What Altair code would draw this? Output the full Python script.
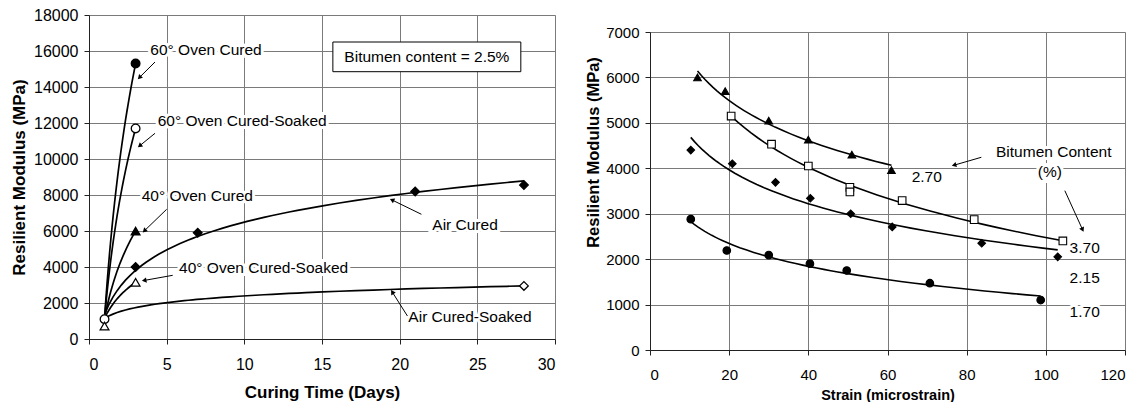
import altair as alt
import pandas as pd

FONT = "Liberation Sans"

# ---------------- Left panel: resilient modulus vs curing time ----------------
left_x_ticks = [0, 5, 10, 15, 20, 25, 30]
left_y_ticks = [0, 2000, 4000, 6000, 8000, 10000, 12000, 14000, 16000, 18000]

oven_days = [1, 3]
oven60_cured = [1150, 15300]
oven60_soaked = [1150, 11700]
oven40_cured = [1150, 6000]
oven40_soaked = [1150, 3150]
air_days = [1, 3, 7, 21, 28]
air_cured = [1150, 4000, 5900, 8200, 8550]
air_soaked_days = [1, 28]
air_soaked = [1150, 2950]
day1_60_soaked_marker = 1100
day1_40_soaked_marker = 720

left_names = ["60° Oven Cured", "60° Oven Cured-Soaked", "40° Oven Cured",
              "40° Oven Cured-Soaked", "Air Cured", "Air Cured-Soaked"]

left_label_x = [3.95, 4.42, 3.39, 5.8, 22.1, 20.56]
left_label_y = [16050, 12100, 7950, 3950, 6350, 1200]

left_arrow_x = [4.25, 4.25, 5.0, 5.39, 21.4, 20.5]
left_arrow_y = [15389, 11428, 7206, 3539, 6928, 1278]
left_arrow_x2 = [3.28, 3.30, 3.6, 3.6, 19.55, 19.55]
left_arrow_y2 = [14556, 10761, 6039, 3261, 7706, 2572]
left_arrow_angle = [225, 231, 226, 260, 296, 328]

box_text = "Bitumen content = 2.5%"
box_x, box_x2, box_y, box_y2 = 15.7, 27.8, 14850, 16500
box_text_x, box_text_y = 21.75, 15680

# ---------------- Right panel: resilient modulus vs strain ----------------
right_x_ticks = [0, 20, 40, 60, 80, 100, 120]
right_y_ticks = [0, 1000, 2000, 3000, 4000, 5000, 6000, 7000]

bc_270_strain = [12, 19, 30, 40, 51, 61]
bc_270_mod = [6000, 5700, 5050, 4630, 4300, 3960]
bc_370_strain = [20.5, 30.7, 40, 50.5, 50.5, 63.7, 81.9, 104.3]
bc_370_mod = [5150, 4530, 4050, 3580, 3480, 3290, 2870, 2400]
bc_215_strain = [10.3, 20.8, 31.7, 40.5, 50.7, 61.2, 83.8, 103]
bc_215_mod = [4400, 4100, 3690, 3340, 3000, 2710, 2350, 2050]
bc_170_strain = [10.3, 19.4, 30, 40.4, 49.7, 70.7, 98.7]
bc_170_mod = [2880, 2190, 2090, 1900, 1750, 1470, 1100]

right_left_labels = ["2.70", "3.70", "2.15", "1.70"]
right_left_label_x = [66.1, 106, 106, 106]
right_left_label_y = [3815, 2239, 1585, 830]
right_center_labels = ["Bitumen Content", "(%)"]
right_center_label_x = [102, 101]
right_center_label_y = [4352, 3911]

right_arrow_x = [83.7, 104.8]
right_arrow_y = [4242, 3507]
right_arrow_x2 = [77.0, 109.2]
right_arrow_y2 = [4073, 2664]
right_arrow_angle = [254, 155]

# ---------------- tables ----------------
left_series = [
    (left_names[0], oven_days, oven60_cured),
    (left_names[1], oven_days, oven60_soaked),
    (left_names[2], oven_days, oven40_cured),
    (left_names[3], oven_days, oven40_soaked),
    (left_names[4], air_days, air_cured),
    (left_names[5], air_soaked_days, air_soaked),
]
left_df = pd.DataFrame([{"series": n, "x": d, "y": v}
                        for n, ds, vs in left_series for d, v in zip(ds, vs)])

marker_rows = [
    (oven_days[1], oven60_cured[1], "circle", "black"),
    (oven_days[1], oven60_soaked[1], "circle", "white"),
    (oven_days[0], day1_60_soaked_marker, "circle", "white"),
    (oven_days[1], oven40_cured[1], "triangle-up", "black"),
    (oven_days[1], oven40_soaked[1], "triangle-up", "white"),
    (oven_days[0], day1_40_soaked_marker, "triangle-up", "white"),
] + [(d, v, "diamond", "black") for d, v in zip(air_days[1:], air_cured[1:])] + [
    (air_soaked_days[1], air_soaked[1], "diamond", "white")]
left_markers = pd.DataFrame(marker_rows, columns=["x", "y", "shape", "fill"])

left_labels = pd.DataFrame({"x": left_label_x, "y": left_label_y, "label": left_names})
left_arrows = pd.DataFrame({"x": left_arrow_x, "y": left_arrow_y, "x2": left_arrow_x2,
                            "y2": left_arrow_y2})
left_heads = pd.DataFrame({"x": left_arrow_x2, "y": left_arrow_y2, "angle": left_arrow_angle})
box_df = pd.DataFrame({"x": [box_x], "x2": [box_x2], "y": [box_y], "y2": [box_y2]})
box_text_df = pd.DataFrame({"x": [box_text_x], "y": [box_text_y], "label": [box_text]})

right_series = [
    ("2.70", bc_270_strain, bc_270_mod, "triangle-up", "black"),
    ("3.70", bc_370_strain, bc_370_mod, "square", "white"),
    ("2.15", bc_215_strain, bc_215_mod, "diamond", "black"),
    ("1.70", bc_170_strain, bc_170_mod, "circle", "black"),
]
right_df = pd.DataFrame([{"series": n, "x": s, "y": m, "shape": sh, "fill": f}
                         for n, ss, ms, sh, f in right_series for s, m in zip(ss, ms)])
right_llabels = pd.DataFrame({"x": right_left_label_x, "y": right_left_label_y, "label": right_left_labels})
right_clabels = pd.DataFrame({"x": right_center_label_x, "y": right_center_label_y, "label": right_center_labels})
right_arrows = pd.DataFrame({"x": right_arrow_x, "y": right_arrow_y, "x2": right_arrow_x2,
                             "y2": right_arrow_y2})
right_heads = pd.DataFrame({"x": right_arrow_x2, "y": right_arrow_y2, "angle": right_arrow_angle})


def make_axis(values, title, label_size, title_size, label_pad, title_pad, **kw):
    return alt.Axis(values=values, title=title, format="d", grid=True,
                    gridColor="#7a7a7a", gridWidth=1, domainColor="#222",
                    tickColor="#222", tickSize=5, labelFont=FONT, titleFont=FONT,
                    labelFontSize=label_size, titleFontSize=title_size,
                    labelColor="black", titleColor="black", titleFontWeight="bold",
                    labelPadding=label_pad, titlePadding=title_pad, **kw)


# ---------------- left chart ----------------
lx = alt.X("x:Q", scale=alt.Scale(domain=[0, 30], nice=False),
           axis=make_axis(left_x_ticks, "Curing Time (Days)", 16, 17, 12, 12))
ly = alt.Y("y:Q", scale=alt.Scale(domain=[0, 18000], nice=False),
           axis=make_axis(left_y_ticks, "Resilient Modulus (MPa)", 16, 17, 6, 0,
                          titleX=-70, titleBaseline="middle"))

l_lines = alt.Chart(left_df).transform_regression(
    "x", "y", groupby=["series"], method="log"
).mark_line(color="black", strokeWidth=1.7).encode(x=lx, y=ly, detail="series:N")

l_points = alt.Chart(left_markers).mark_point(filled=True, stroke="black", strokeWidth=1.3,
                                               size=75, opacity=1).encode(
    x=lx, y=ly, shape=alt.Shape("shape:N", scale=None), fill=alt.Fill("fill:N", scale=None))

l_halo = alt.Chart(left_labels).mark_text(align="left", baseline="middle", font=FONT,
                                           fontSize=15.5, color="white", stroke="white",
                                           strokeWidth=6).encode(x=lx, y=ly, text="label:N")
l_text = alt.Chart(left_labels).mark_text(align="left", baseline="middle", font=FONT,
                                           fontSize=15.5, color="black").encode(
    x=lx, y=ly, text="label:N")

l_rules = alt.Chart(left_arrows).mark_rule(color="black", strokeWidth=1).encode(
    x=lx, y=ly, x2="x2:Q", y2="y2:Q")
l_heads = alt.Chart(left_heads).mark_point(shape="triangle", filled=True, color="black",
                                            size=28, opacity=1).encode(
    x=lx, y=ly, angle=alt.Angle("angle:Q", scale=None))

l_box = alt.Chart(box_df).mark_rect(fill="white", stroke="black", strokeWidth=1).encode(
    x=lx, y=ly, x2="x2:Q", y2="y2:Q")
l_box_text = alt.Chart(box_text_df).mark_text(align="center", baseline="middle", font=FONT,
                                               fontSize=15.5, color="black").encode(
    x=lx, y=ly, text="label:N")

left = alt.layer(l_halo, l_text, l_box, l_box_text, l_lines, l_rules, l_heads, l_points).properties(
    width=466, height=324)

# ---------------- right chart ----------------
rx = alt.X("x:Q", scale=alt.Scale(domain=[0, 120], nice=False),
           axis=make_axis(right_x_ticks, "Strain (microstrain)", 15, 14.5, 12, 6))
ry = alt.Y("y:Q", scale=alt.Scale(domain=[0, 7000], nice=False),
           axis=make_axis(right_y_ticks, "Resilient Modulus (MPa)", 15, 16.5, 6, 1,
                          titleX=-57, titleY=120, titleBaseline="middle"))

r_lines = alt.Chart(right_df).transform_regression(
    "x", "y", groupby=["series"], method="log"
).mark_line(color="black", strokeWidth=1.6).encode(x=rx, y=ry, detail="series:N")

r_points = alt.Chart(right_df).mark_point(filled=True, stroke="black", strokeWidth=1.1,
                                           size=58, opacity=1).encode(
    x=rx, y=ry, shape=alt.Shape("shape:N", scale=None), fill=alt.Fill("fill:N", scale=None))

r_halo1 = alt.Chart(right_llabels).mark_text(align="left", baseline="middle", font=FONT,
                                              fontSize=15.5, color="white", stroke="white",
                                              strokeWidth=6).encode(x=rx, y=ry, text="label:N")
r_text1 = alt.Chart(right_llabels).mark_text(align="left", baseline="middle", font=FONT,
                                              fontSize=15.5, color="black").encode(
    x=rx, y=ry, text="label:N")
r_halo2 = alt.Chart(right_clabels).mark_text(align="center", baseline="middle", font=FONT,
                                              fontSize=15.5, color="white", stroke="white",
                                              strokeWidth=6).encode(x=rx, y=ry, text="label:N")
r_text2 = alt.Chart(right_clabels).mark_text(align="center", baseline="middle", font=FONT,
                                              fontSize=15.5, color="black").encode(
    x=rx, y=ry, text="label:N")

r_rules = alt.Chart(right_arrows).mark_rule(color="black", strokeWidth=1).encode(
    x=rx, y=ry, x2="x2:Q", y2="y2:Q")
r_heads = alt.Chart(right_heads).mark_point(shape="triangle", filled=True, color="black",
                                             size=28, opacity=1).encode(
    x=rx, y=ry, angle=alt.Angle("angle:Q", scale=None))

right = alt.layer(r_halo1, r_text1, r_halo2, r_text2, r_lines, r_rules, r_heads, r_points).properties(
    width=475, height=318)

# invisible spacer that lowers the right panel relative to the left one
spacer = alt.Chart(pd.DataFrame({"v": [0]})).mark_point(opacity=0, size=1).encode(
    x=alt.value(5), y=alt.value(4)
).properties(width=475, height=8, view=alt.ViewBackground(stroke="transparent"))

right_col = alt.vconcat(spacer, right, spacing=0)

chart = alt.hconcat(left, right_col, spacing=28).properties(
    padding={"left": 9, "top": 6, "right": 5, "bottom": 0}
).configure_view(stroke="#444", strokeWidth=1).configure(background="white")

chart.save("out.html", embed_options={"renderer": "svg", "actions": False})
